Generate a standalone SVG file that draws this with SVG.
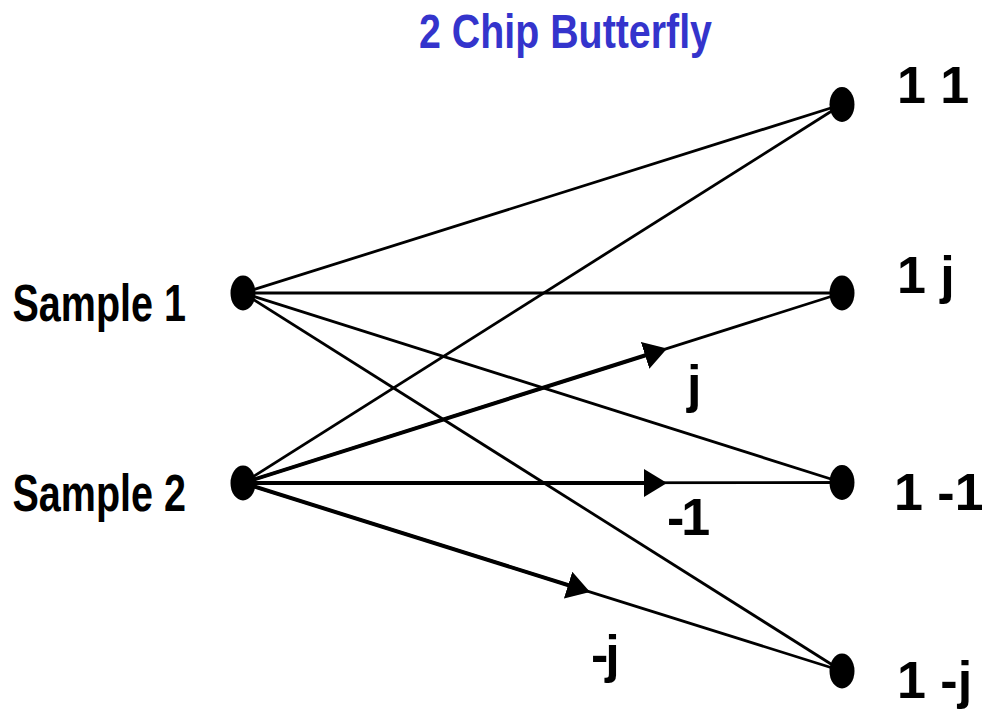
<svg xmlns="http://www.w3.org/2000/svg" width="982" height="711" viewBox="0 0 982 711">
<style>
.edge{stroke:#000;stroke-width:2.8;fill:none}
.thick{stroke:#000;stroke-width:4;fill:none;marker-end:url(#arr)}
.node{fill:#000}
.lbl{font-family:"Liberation Sans",Arial,sans-serif;font-weight:bold;font-size:52px;fill:#000}
.title{font-family:"Liberation Sans",Arial,sans-serif;font-weight:bold;font-size:49px;fill:#3434cc}
</style>
<defs>
<marker id="arr" viewBox="0 0 23 28" refX="13" refY="14" markerWidth="23" markerHeight="28" markerUnits="userSpaceOnUse" orient="auto">
<path d="M0,0 L23,14 L0,28 Z" fill="#000"/>
</marker>
</defs>
<rect width="982" height="711" fill="#fff"/>
<text class="title" x="419" y="48" textLength="293" lengthAdjust="spacingAndGlyphs">2 Chip Butterfly</text>
<g id="connectors">
<line class="edge" x1="243" y1="293" x2="842" y2="104.5"/>
<line class="edge" x1="243" y1="293" x2="842" y2="293"/>
<line class="edge" x1="243" y1="293" x2="842" y2="482.5"/>
<line class="edge" x1="243" y1="293" x2="842" y2="671"/>
<line class="edge" x1="243" y1="483" x2="842" y2="104.5"/>
<line class="edge" x1="243" y1="483" x2="842" y2="293"/>
<line class="edge" x1="243" y1="483" x2="842" y2="482.5"/>
<line class="edge" x1="243" y1="483" x2="842" y2="671"/>
<line class="thick" x1="243" y1="483" x2="657.5" y2="351.5"/>
<line class="thick" x1="243" y1="483" x2="657" y2="483"/>
<line class="thick" x1="243" y1="483" x2="580.5" y2="589"/>
<text class="lbl" x="687" y="402">j</text>
<text class="lbl" x="667" y="535" letter-spacing="-3">-1</text>
<text class="lbl" x="591" y="672" letter-spacing="-3">-j</text>
</g>
<g id="sample1">
<ellipse class="node" cx="243" cy="293" rx="12.5" ry="17.5"/>
<text class="lbl" x="12.5" y="321" textLength="173.5" lengthAdjust="spacingAndGlyphs">Sample 1</text>
</g>
<g id="sample2">
<ellipse class="node" cx="243" cy="483" rx="12.5" ry="17.5"/>
<text class="lbl" x="12.5" y="511" textLength="173.5" lengthAdjust="spacingAndGlyphs">Sample 2</text>
</g>
<g id="out11">
<ellipse class="node" cx="842" cy="104.5" rx="12.5" ry="17.5"/>
<text class="lbl" x="897" y="103">1 1</text>
</g>
<g id="out1j">
<ellipse class="node" cx="842" cy="293" rx="12.5" ry="17.5"/>
<text class="lbl" x="897" y="293">1 j</text>
</g>
<g id="out1m1">
<ellipse class="node" cx="842" cy="482.5" rx="12.5" ry="17.5"/>
<text class="lbl" x="894" y="510" font-size="50">1 -1</text>
</g>
<g id="out1mj">
<ellipse class="node" cx="842" cy="671" rx="12.5" ry="17.5"/>
<text class="lbl" x="897" y="698">1 -j</text>
</g>
</svg>
